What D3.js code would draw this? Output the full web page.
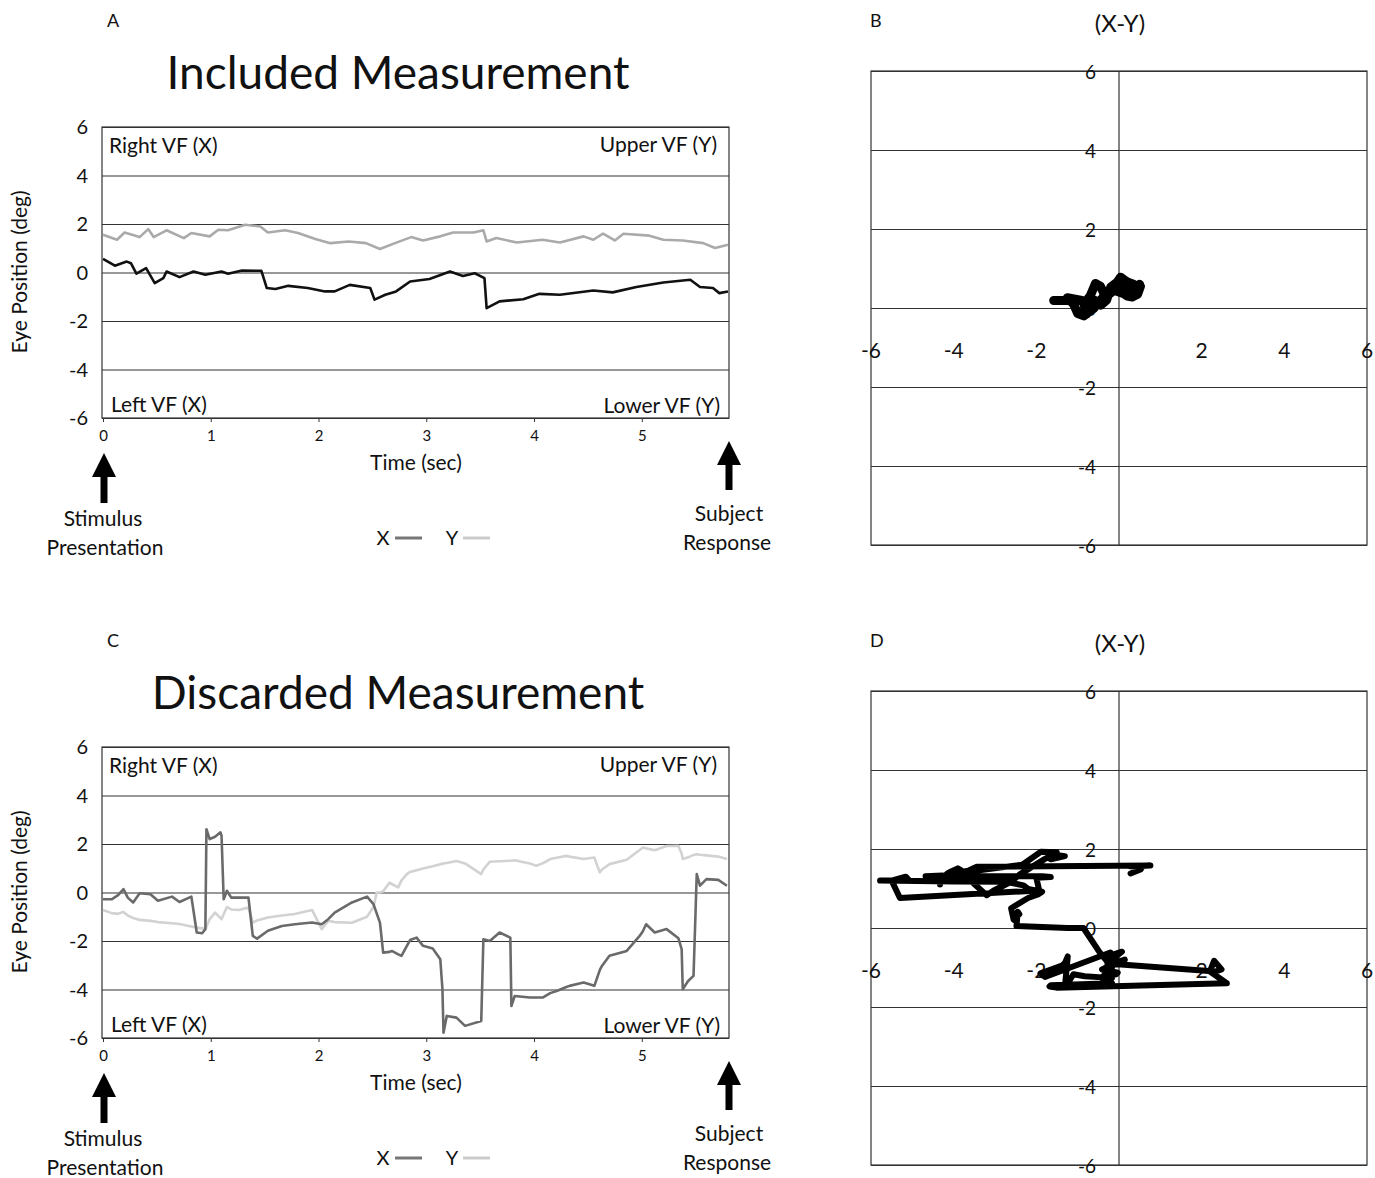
<!DOCTYPE html>
<html>
<head>
<meta charset="utf-8">
<script src="https://cdn.jsdelivr.net/npm/d3@7"></script>
<style>
body { margin: 0; background: #fff; }
text { font-family: Lato, "Open Sans", sans-serif; fill: #111; }
</style>
</head>
<body>
<div id="viz"></div>
<script>
// ---- data ----
var timeTicks = [0, 1, 2, 3, 4, 5];
var posTicks = [-6, -4, -2, 0, 2, 4, 6];
var xyTicks = [-6, -4, -2, 2, 4, 6];

// panel A (included) - X trace (black)
var aXTime = [0,0.11,0.22,0.26,0.31,0.40,0.48,0.56,0.59,0.71,0.84,0.95,1.10,1.16,1.29,1.47,1.52,1.60,1.72,1.90,2.06,2.15,2.29,2.48,2.52,2.62,2.72,2.85,3.03,3.22,3.34,3.45,3.54,3.56,3.68,3.90,4.05,4.24,4.55,4.73,4.95,5.20,5.45,5.54,5.66,5.72,5.80];
var aXVal = [0.56,0.28,0.45,0.38,-0.05,0.18,-0.44,-0.23,0.04,-0.19,0.04,-0.09,0.04,-0.05,0.08,0.07,-0.64,-0.68,-0.55,-0.64,-0.78,-0.78,-0.51,-0.64,-1.12,-0.92,-0.78,-0.37,-0.27,0.04,-0.14,-0.03,-0.23,-1.47,-1.19,-1.10,-0.88,-0.92,-0.74,-0.82,-0.60,-0.41,-0.30,-0.60,-0.64,-0.85,-0.78];
// panel A - Y trace (grey)
var aYTime = [0,0.13,0.20,0.34,0.42,0.47,0.59,0.75,0.82,0.99,1.07,1.16,1.32,1.46,1.53,1.69,1.81,1.97,2.11,2.28,2.44,2.57,2.71,2.86,2.97,3.13,3.25,3.44,3.53,3.56,3.65,3.84,4.08,4.24,4.46,4.55,4.64,4.75,4.83,5.07,5.20,5.38,5.57,5.68,5.80];
var aYVal = [1.56,1.35,1.65,1.46,1.79,1.46,1.74,1.42,1.63,1.49,1.76,1.74,1.97,1.90,1.65,1.74,1.63,1.38,1.21,1.28,1.21,0.97,1.21,1.46,1.32,1.49,1.65,1.65,1.74,1.28,1.42,1.24,1.35,1.24,1.49,1.35,1.60,1.32,1.60,1.52,1.35,1.32,1.21,1.01,1.14];

// panel B - X-Y trace of the included measurement
var bX = [-1.58,-0.9,-1.25,-1.1,-1.0,-0.85,-0.77,-0.85,-0.7,-0.57,-0.45,-0.36,-0.44,-0.3,-0.2,-0.05,0.04,0.12,0.2,0.35,0.44,0.52,0.45,0.32,0.2,0.12,-0.12,-0.3,-0.45,-0.6,-0.75,-0.9,-0.8,-0.6,-0.5,-0.35,-0.2,0.05,0.3,0.45,0.5];
var bY = [0.19,0.19,0.26,0.1,-0.14,-0.2,-0.14,0.1,0.3,0.62,0.55,0.36,0.07,0.2,0.53,0.65,0.78,0.72,0.66,0.6,0.49,0.55,0.35,0.28,0.3,0.36,0.45,0.3,0.1,0.2,0.05,-0.1,-0.15,0.0,0.15,0.3,0.4,0.55,0.4,0.48,0.6];

// panel C (discarded) - shared time base, also plotted as X-Y in panel D
var cTime = [0,0.08,0.14,0.19,0.23,0.28,0.34,0.44,0.51,0.64,0.71,0.82,0.87,0.92,0.95,0.96,0.99,1.04,1.09,1.10,1.12,1.15,1.19,1.26,1.35,1.39,1.43,1.53,1.66,1.78,1.94,2.03,2.09,2.15,2.31,2.45,2.51,2.54,2.57,2.60,2.66,2.68,2.74,2.77,2.82,2.85,2.91,2.97,3.06,3.13,3.15,3.16,3.19,3.28,3.36,3.51,3.53,3.59,3.68,3.78,3.79,3.82,3.96,4.02,4.08,4.15,4.21,4.30,4.33,4.46,4.56,4.61,4.63,4.70,4.86,4.98,5.01,5.04,5.12,5.23,5.34,5.37,5.38,5.43,5.48,5.51,5.54,5.60,5.71,5.79];
var cX = [-0.28,-0.28,-0.11,0.14,-0.21,-0.41,-0.03,-0.07,-0.34,-0.17,-0.39,-0.17,-1.65,-1.68,-1.51,2.61,2.20,2.30,2.48,2.34,-0.28,0.07,-0.21,-0.21,-0.21,-1.79,-1.90,-1.58,-1.38,-1.31,-1.24,-1.31,-1.10,-0.83,-0.41,-0.17,-0.48,-0.86,-1.24,-2.48,-2.45,-2.41,-2.55,-2.61,-2.20,-1.96,-1.86,-2.20,-2.31,-2.75,-3.99,-5.78,-5.09,-5.16,-5.50,-5.30,-1.93,-2.00,-1.65,-1.86,-4.68,-4.27,-4.33,-4.33,-4.33,-4.15,-4.06,-3.90,-3.85,-3.71,-3.85,-3.20,-3.03,-2.61,-2.41,-1.79,-1.60,-1.31,-1.65,-1.51,-1.89,-2.34,-3.99,-3.65,-3.44,0.76,0.28,0.55,0.52,0.28];
var cY = [-0.72,-0.85,-0.88,-0.80,-0.95,-1.05,-1.13,-1.17,-1.22,-1.27,-1.30,-1.40,-1.45,-1.48,-1.51,-1.40,-1.10,-0.83,-1.05,-1.10,-0.90,-0.60,-0.70,-0.72,-0.62,-1.24,-1.15,-1.03,-0.95,-0.89,-0.72,-1.51,-1.17,-1.22,-1.25,-1.00,-0.60,0.00,0.00,0.05,0.41,0.35,0.21,0.50,0.76,0.85,0.92,0.99,1.08,1.17,1.18,1.20,1.22,1.30,1.20,0.76,0.95,1.27,1.29,1.31,1.31,1.33,1.20,1.10,1.20,1.38,1.43,1.51,1.48,1.38,1.44,0.83,0.95,1.17,1.35,1.75,1.86,1.82,1.74,1.92,1.93,1.60,1.38,1.45,1.55,1.58,1.56,1.53,1.48,1.38];

var svg = d3.select("#viz")
  .append("svg")
  .attr("width", 1375)
  .attr("height", 1178);

// time plots (A and C)
function timePanel(dy, letter, title, xs, ys) {
  var g = svg.append("g").attr("transform", "translate(0," + dy + ")");
  var x = d3.scaleLinear().domain([0, 5.8]).range([103, 728]);
  var y = d3.scaleLinear().domain([-6, 6]).range([418, 127]);

  g.append("text").attr("x", 107).attr("y", 27).style("font-size", "18px").text(letter);
  g.append("text").attr("x", 398).attr("y", 89).attr("text-anchor", "middle")
    .style("font-size", "46px").text(title);

  // grid
  g.append("g").attr("transform", "translate(102,0)")
    .call(d3.axisLeft(y).tickValues(posTicks).tickSize(-627).tickFormat(""))
    .call(function(a) { a.select(".domain").remove(); })
    .selectAll("line").attr("stroke", "#333").attr("stroke-width", 1.2);
  g.append("rect").attr("x", 102).attr("y", 127).attr("width", 627).attr("height", 291)
    .attr("fill", "none").attr("stroke", "#333").attr("stroke-width", 1.2);

  // y labels
  g.selectAll(".ylab").data(posTicks).enter().append("text")
    .attr("x", 88).attr("y", function(d) { return y(d) + 7; })
    .attr("text-anchor", "end").style("font-size", "20px")
    .text(function(d) { return d; });

  // x axis
  var ax = g.append("g").attr("transform", "translate(0,418)")
    .call(d3.axisBottom(x).tickValues(timeTicks).tickFormat(d3.format("d"))
      .tickSize(4).tickSizeOuter(0).tickPadding(8));
  ax.select(".domain").remove();
  ax.selectAll("line").attr("stroke", "#333");
  ax.selectAll("text").style("font-size", "15px").style("font-family", "Lato, sans-serif");

  g.append("text").attr("x", 416).attr("y", 470).attr("text-anchor", "middle")
    .style("font-size", "21px").text("Time (sec)");
  g.append("text").attr("transform", "translate(27,272) rotate(-90)").attr("text-anchor", "middle")
    .style("font-size", "21px").text("Eye Position (deg)");

  // corner labels
  g.append("text").attr("x", 109).attr("y", 153).style("font-size", "21px").text("Right VF (X)");
  g.append("text").attr("x", 717).attr("y", 152).attr("text-anchor", "end").style("font-size", "21px").text("Upper VF (Y)");
  g.append("text").attr("x", 111).attr("y", 412).style("font-size", "21px").text("Left VF (X)");
  g.append("text").attr("x", 720).attr("y", 413).attr("text-anchor", "end").style("font-size", "21px").text("Lower VF (Y)");

  var line = d3.line().x(function(d) { return x(d[0]); }).y(function(d) { return y(d[1]); });
  g.append("path").datum(ys.data).attr("d", line).attr("fill", "none")
    .attr("stroke", ys.color).attr("stroke-width", 2.6).attr("stroke-linejoin", "round");
  g.append("path").datum(xs.data).attr("d", line).attr("fill", "none")
    .attr("stroke", xs.color).attr("stroke-width", 2.6).attr("stroke-linejoin", "round");

  // arrows
  arrow(g, 104, 453, 503);
  arrow(g, 729, 441, 490);
  g.append("text").attr("x", 103).attr("y", 526).attr("text-anchor", "middle").style("font-size", "21px").text("Stimulus");
  g.append("text").attr("x", 105).attr("y", 555).attr("text-anchor", "middle").style("font-size", "21px").text("Presentation");
  g.append("text").attr("x", 729).attr("y", 521).attr("text-anchor", "middle").style("font-size", "21px").text("Subject");
  g.append("text").attr("x", 727).attr("y", 550).attr("text-anchor", "middle").style("font-size", "21px").text("Response");

  // legend
  g.append("text").attr("x", 383).attr("y", 545).attr("text-anchor", "middle").style("font-size", "20px").text("X");
  g.append("line").attr("x1", 395).attr("x2", 422).attr("y1", 538).attr("y2", 538).attr("stroke", "#777").attr("stroke-width", 3);
  g.append("text").attr("x", 452).attr("y", 545).attr("text-anchor", "middle").style("font-size", "20px").text("Y");
  g.append("line").attr("x1", 463).attr("x2", 490).attr("y1", 538).attr("y2", 538).attr("stroke", "#ccc").attr("stroke-width", 3);
}

function arrow(g, cx, tip, bottom) {
  var pts = [[cx, tip], [cx + 12, tip + 24], [cx + 3.5, tip + 24], [cx + 3.5, bottom],
             [cx - 3.5, bottom], [cx - 3.5, tip + 24], [cx - 12, tip + 24]];
  g.append("path").attr("d", d3.line()(pts) + "Z").attr("fill", "#000");
}

// X-Y plots (B and D)
function xyPanel(dy, letter, xs, ys, width) {
  var g = svg.append("g").attr("transform", "translate(0," + dy + ")");
  var x = d3.scaleLinear().domain([-6, 6]).range([871, 1367]);
  var y = d3.scaleLinear().domain([-6, 6]).range([545, 71]);

  g.append("text").attr("x", 870).attr("y", 27).style("font-size", "18px").text(letter);
  g.append("text").attr("x", 1120).attr("y", 32).attr("text-anchor", "middle")
    .style("font-size", "24px").text("(X-Y)");

  g.append("g").attr("transform", "translate(871,0)")
    .call(d3.axisLeft(y).tickValues(posTicks).tickSize(-496).tickFormat(""))
    .call(function(a) { a.select(".domain").remove(); })
    .selectAll("line").attr("stroke", "#333").attr("stroke-width", 1.2);
  g.append("line").attr("x1", x(0)).attr("x2", x(0)).attr("y1", 71).attr("y2", 545)
    .attr("stroke", "#333").attr("stroke-width", 1.2);
  g.append("rect").attr("x", 871).attr("y", 71).attr("width", 496).attr("height", 474)
    .attr("fill", "none").attr("stroke", "#333").attr("stroke-width", 1.2);

  // y labels left of the vertical axis
  g.selectAll(".ylab").data(posTicks).enter().append("text")
    .attr("x", x(0) - 23).attr("y", function(d) { return y(d) + 8; })
    .attr("text-anchor", "end").style("font-size", "19px")
    .text(function(d) { return d; });
  // x labels below the horizontal axis
  g.selectAll(".xlab").data(xyTicks).enter().append("text")
    .attr("x", function(d) { return x(d); }).attr("y", 358)
    .attr("text-anchor", "middle").style("font-size", "21px")
    .text(function(d) { return d; });

  var pts = d3.zip(xs, ys);
  g.append("path").datum(pts)
    .attr("d", d3.line().x(function(d) { return x(d[0]); }).y(function(d) { return y(d[1]); }))
    .attr("fill", "none").attr("stroke", "#000").attr("stroke-width", width)
    .attr("stroke-linejoin", "round").attr("stroke-linecap", "round");
}

timePanel(0, "A", "Included Measurement",
  { data: d3.zip(aXTime, aXVal), color: "#111" },
  { data: d3.zip(aYTime, aYVal), color: "#aaa" });
timePanel(620, "C", "Discarded Measurement",
  { data: d3.zip(cTime, cX), color: "#6a6a6a" },
  { data: d3.zip(cTime, cY), color: "#d2d2d2" });

xyPanel(0, "B", bX, bY, 9);
xyPanel(620, "D", cX, cY, 6);
</script>
</body>
</html>
